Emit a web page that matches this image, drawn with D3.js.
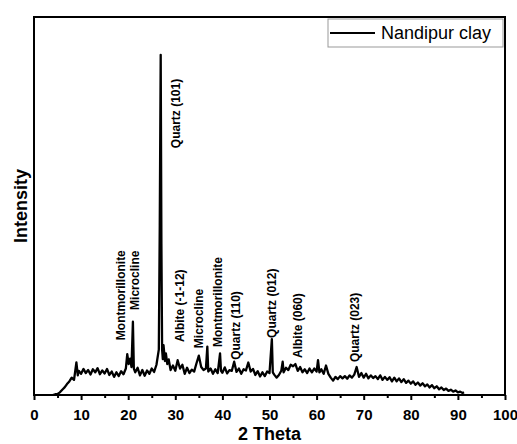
<!DOCTYPE html>
<html>
<head>
<meta charset="utf-8">
<script src="https://cdn.jsdelivr.net/npm/d3@7"></script>
<style>
    body { margin: 0; background: #fff; }
    text { font-family: "Liberation Sans", Arial, sans-serif; }
</style>
</head>
<body>
<svg id="chart" width="517" height="444"></svg>
<script>
// 2 theta positions and intensity (a.u.)
let twoTheta = [4.0, 4.5, 5.0, 5.5, 6.0, 6.5, 7.0, 7.5, 8.0, 8.5, 9.0, 9.3, 9.5, 10.0, 10.5, 11.0, 11.5, 12.0, 12.5, 13.0,
    13.5, 14.0, 14.5, 15.0, 15.5, 16.0, 16.5, 17.0, 17.5, 18.0, 18.5, 19.0, 19.5, 19.8, 20.1, 20.4, 20.7, 21.0, 21.2, 21.5,
    22.0, 22.5, 23.0, 23.5, 24.0, 24.5, 25.0, 25.5, 26.0, 26.5, 26.7, 26.9, 27.05, 27.2, 27.35, 27.5, 27.8, 28.0, 28.3, 28.6,
    29.0, 29.5, 30.0, 30.5, 31.0, 31.5, 32.0, 32.5, 33.0, 33.5, 34.0, 34.5, 35.0, 35.5, 36.0, 36.5, 36.8, 37.0, 37.5, 38.0,
    38.5, 39.0, 39.5, 39.7, 40.0, 40.5, 41.0, 41.5, 42.0, 42.5, 43.0, 43.5, 44.0, 44.5, 45.0, 45.5, 46.0, 46.5, 47.0, 47.5,
    48.0, 48.5, 49.0, 49.5, 50.0, 50.5, 50.7, 51.0, 51.5, 52.0, 52.5, 52.8, 53.0, 53.5, 54.0, 54.5, 55.0, 55.5, 56.0, 56.5,
    57.0, 57.5, 58.0, 58.5, 59.0, 59.5, 60.0, 60.3, 60.6, 61.0, 61.5, 62.0, 62.5, 63.0, 63.5, 64.0, 64.5, 65.0, 65.5, 66.0,
    66.5, 67.0, 67.5, 68.0, 68.5, 69.0, 69.5, 70.0, 70.5, 71.0, 71.5, 72.0, 72.5, 73.0, 73.5, 74.0, 74.5, 75.0, 75.5, 76.0,
    76.5, 77.0, 77.5, 78.0, 78.5, 79.0, 79.5, 80.0, 80.5, 81.0, 81.5, 82.0, 82.5, 83.0, 83.5, 84.0, 84.5, 85.0, 85.5, 86.0,
    86.5, 87.0, 87.5, 88.0, 88.5, 89.0, 89.5, 90.0, 90.5, 91.0, 91.3];

let intensity = [0.0, 0.2, 0.3, 0.7, 1.4, 2.0, 2.9, 3.6, 4.6, 4.0, 8.6, 5.2, 6.4, 5.6, 6.9, 5.8, 6.6, 5.4, 6.8, 6.0,
    7.1, 5.5, 6.5, 5.7, 6.9, 5.3, 6.2, 4.8, 6.0, 5.0, 6.3, 5.5, 7.0, 10.8, 8.2, 9.6, 7.4, 19.4, 7.0, 6.0,
    7.2, 5.2, 6.6, 5.1, 6.5, 5.6, 7.0, 6.1, 8.0, 12.0, 45.0, 90.0, 40.0, 12.0, 9.5, 13.2, 9.0, 11.0, 8.2, 9.4,
    6.6, 7.8, 6.4, 9.2, 7.0, 8.0, 5.6, 7.2, 5.8, 6.7, 6.2, 8.4, 10.4, 7.4, 6.6, 7.0, 12.8, 6.2, 7.0, 5.6,
    6.8, 5.8, 11.0, 6.4, 5.9, 7.3, 5.7, 6.6, 6.4, 8.8, 6.1, 7.0, 5.6, 6.8, 6.5, 8.6, 6.2, 6.9, 5.3, 6.3,
    4.9, 6.0, 5.0, 6.2, 5.8, 14.8, 6.0, 5.4, 4.6, 5.3, 6.4, 8.8, 6.0, 7.2, 6.6, 8.0, 7.6, 8.2, 6.4, 7.4,
    6.0, 6.8, 5.8, 7.0, 6.0, 7.0, 6.2, 9.2, 6.0, 6.8, 5.6, 7.8, 5.6, 4.6, 3.8, 4.8, 4.2, 5.0, 4.4, 5.0,
    4.3, 5.2, 4.6, 5.4, 7.4, 4.8, 5.8, 4.6, 5.6, 4.4, 5.2, 4.5, 5.0, 4.2, 5.2, 4.0, 4.8, 4.0, 4.7, 3.6,
    4.6, 3.6, 4.4, 3.4, 4.2, 3.2, 3.8, 3.0, 3.6, 2.7, 3.3, 2.5, 3.1, 2.3, 2.8, 2.0, 2.6, 1.8, 2.3, 1.5,
    2.0, 1.3, 1.7, 1.1, 1.4, 0.9, 1.2, 0.7, 0.9, 0.5, 0.7];

// phase labels: name, 2 theta, intensity where the label starts
let peakNames = ["Montmorillonite", "Microcline", "Quartz (101)", "Albite (-1-12)", "Microcline",
    "Montmorillonite", "Quartz (110)", "Quartz (012)", "Albite (060)", "Quartz (023)"];
let peakTheta = [18.5, 21.5, 30.2, 30.9, 34.9, 39.1, 42.8, 50.4, 56.0, 68.1];
let peakBase = [14.5, 22.5, 65.3, 14.0, 12.4, 12.7, 9.3, 15.1, 9.8, 8.7];

let xTicks = [0, 10, 20, 30, 40, 50, 60, 70, 80, 90, 100];
let seriesName = "Nandipur clay";

function createChart() {
    let svg = d3.select("#chart");
    let left = 34, right = 505, top = 17, bottom = 395;

    let x = d3.scaleLinear().domain([0, 100]).range([left, right]);
    let y = d3.scaleLinear().domain([0, 100]).range([bottom, top]);

    let data = twoTheta.map((t, i) => ({t: t, v: intensity[i]}));

    let line = d3.line()
        .x(d => x(d.t))
        .y(d => y(d.v));

    svg.append("path")
        .datum(data)
        .attr("d", line)
        .attr("fill", "none")
        .attr("stroke", "#000")
        .attr("stroke-width", 2.3)
        .attr("stroke-linejoin", "round");

    // minor ticks first, then the major axis on top
    svg.append("g")
        .attr("transform", "translate(0," + bottom + ")")
        .call(d3.axisBottom(x).tickValues(d3.range(5, 100, 10)).tickSize(3).tickFormat(""))
        .call(g => g.select(".domain").remove())
        .call(g => g.selectAll("line").attr("stroke-width", 2));

    let xAxis = svg.append("g")
        .attr("transform", "translate(0," + bottom + ")")
        .call(d3.axisBottom(x).tickValues(xTicks).tickSize(5).tickPadding(9));
    xAxis.select(".domain").remove();
    xAxis.selectAll("line").attr("stroke-width", 2);
    xAxis.selectAll("text")
        .attr("font-size", 15)
        .attr("font-weight", "bold")
        .attr("fill", "#000")
        .style("font-family", "'Liberation Sans', Arial, sans-serif");

    // frame
    svg.append("rect")
        .attr("x", left).attr("y", top)
        .attr("width", right - left).attr("height", bottom - top)
        .attr("fill", "none")
        .attr("stroke", "#000")
        .attr("stroke-width", 2);

    // peak labels
    svg.selectAll(".peak")
        .data(peakNames)
        .enter().append("text")
        .attr("class", "peak")
        .attr("transform", (d, i) => "translate(" + x(peakTheta[i]) + "," + y(peakBase[i]) + ") rotate(-90)")
        .attr("dy", "0.35em")
        .attr("font-size", 12)
        .attr("font-weight", "bold")
        .text(d => d);

    // axis titles
    svg.append("text")
        .attr("x", (left + right) / 2)
        .attr("y", 440)
        .attr("text-anchor", "middle")
        .attr("font-size", 18)
        .attr("font-weight", "bold")
        .text("2 Theta");

    svg.append("text")
        .attr("transform", "translate(27," + ((top + bottom) / 2) + ") rotate(-90)")
        .attr("text-anchor", "middle")
        .attr("font-size", 18)
        .attr("font-weight", "bold")
        .text("Intensity");

    // legend
    let legend = svg.append("g");
    legend.append("rect")
        .attr("x", 328).attr("y", 19)
        .attr("width", 175).attr("height", 28)
        .attr("fill", "#fff")
        .attr("stroke", "#999")
        .attr("stroke-width", 1);
    legend.append("line")
        .attr("x1", 330).attr("x2", 375)
        .attr("y1", 33).attr("y2", 33)
        .attr("stroke", "#000")
        .attr("stroke-width", 1.8);
    legend.append("text")
        .attr("x", 381).attr("y", 39)
        .attr("font-size", 18)
        .text(seriesName);
}

createChart();
</script>
</body>
</html>
